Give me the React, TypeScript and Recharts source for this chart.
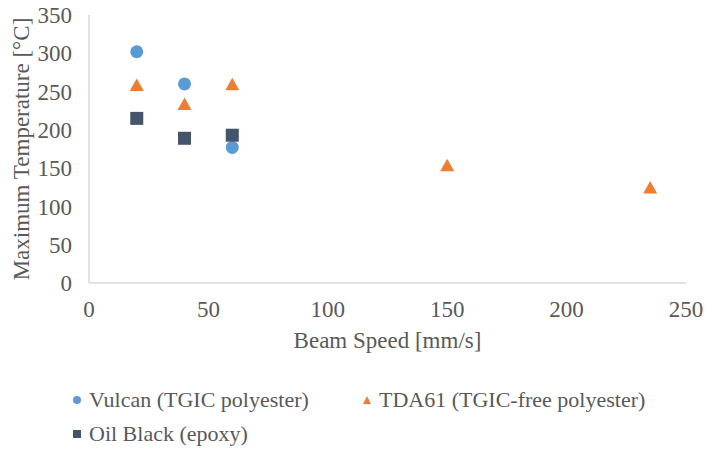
import { ScatterChart, Scatter, XAxis, YAxis } from 'recharts'

const vulcanSpeed = [20, 40, 60]
const vulcanTemp = [302, 260, 177]
const tdaSpeed = [20, 40, 60, 150, 235]
const tdaTemp = [258, 233, 259, 153, 124]
const oilSpeed = [20, 40, 60]
const oilTemp = [215, 189, 193]

const xTicks = [0, 50, 100, 150, 200, 250]
const yTicks = [0, 50, 100, 150, 200, 250, 300, 350]

const toPoints = (xs: number[], ys: number[]) => xs.map((x, i) => ({ x, y: ys[i] }))

const series = [
  { name: 'Vulcan (TGIC polyester)', color: '#5B9BD5', shape: 'circle' as const, data: toPoints(vulcanSpeed, vulcanTemp) },
  { name: 'TDA61 (TGIC-free polyester)', color: '#ED7D31', shape: 'triangle' as const, data: toPoints(tdaSpeed, tdaTemp) },
  { name: 'Oil Black (epoxy)', color: '#44546A', shape: 'square' as const, data: toPoints(oilSpeed, oilTemp) },
]

const FONT = 'Liberation Serif'
const TEXT = '#595959'
const axisTick = { fontSize: 23, fill: TEXT, fontFamily: FONT }

function Marker({ cx, cy, shape, color }: { cx?: number; cy?: number; shape: string; color: string }) {
  if (cx == null || cy == null) return null
  if (shape === 'circle') return <circle cx={cx} cy={cy} r={6.5} fill={color} />
  if (shape === 'square') return <rect x={cx - 6.5} y={cy - 6.5} width={13} height={13} fill={color} />
  return <polygon points={`${cx},${cy - 7} ${cx + 7},${cy + 5.5} ${cx - 7},${cy + 5.5}`} fill={color} />
}

function LegendIcon({ shape, color }: { shape: string; color: string }) {
  return (
    <svg width={8} height={8} style={{ marginRight: 8 }}>
      {shape === 'circle' && <circle cx={4} cy={4} r={4} fill={color} />}
      {shape === 'square' && <rect x={0} y={0} width={8} height={8} fill={color} />}
      {shape === 'triangle' && <polygon points="4,0 8,8 0,8" fill={color} />}
    </svg>
  )
}

// legend is drawn as plain html under the chart, two rows like the original
function CustomLegend() {
  const pos = [{ left: 73, top: 387 }, { left: 363, top: 387 }, { left: 73, top: 421 }]
  return (
    <>
      {series.map((s, i) => (
        <div key={s.name} style={{
          position: 'absolute', left: pos[i].left, top: pos[i].top, display: 'flex', alignItems: 'center',
          fontFamily: FONT, fontSize: 22, color: TEXT, whiteSpace: 'nowrap', lineHeight: '26px',
        }}>
          <LegendIcon shape={s.shape} color={s.color} />
          {s.name}
        </div>
      ))}
    </>
  )
}

export default function App() {
  return (
    <div style={{ position: 'absolute', left: 0, top: 0, width: 706, height: 450, background: '#fff', fontFamily: FONT }}>
      <ScatterChart width={706} height={450} margin={{ top: 15, right: 20, bottom: 107, left: 0 }}>
        <XAxis type="number" dataKey="x" domain={[0, 250]} ticks={xTicks} tick={axisTick}
          axisLine={{ stroke: '#D9D9D9', strokeWidth: 1.5 }} tickLine={false} tickSize={0} tickMargin={18}
          height={60}
          label={{ value: 'Beam Speed [mm/s]', position: 'insideBottom', offset: -5, fill: TEXT, fontSize: 23, fontFamily: FONT }} />
        <YAxis type="number" dataKey="y" domain={[0, 350]} ticks={yTicks} tick={axisTick}
          axisLine={{ stroke: '#D9D9D9', strokeWidth: 1.5 }} tickLine={false} tickSize={0} tickMargin={17}
          width={89}
          label={{ value: 'Maximum Temperature [°C]', angle: -90, position: 'insideLeft', offset: 21, fill: TEXT, fontSize: 23, fontFamily: FONT, style: { textAnchor: 'middle' } }} />
        {series.map(s => (
          <Scatter key={s.name} name={s.name} data={s.data} fill={s.color} isAnimationActive={false}
            shape={(p: any) => <Marker cx={p.cx} cy={p.cy} shape={s.shape} color={s.color} />} />
        ))}
      </ScatterChart>
      <CustomLegend />
    </div>
  )
}
